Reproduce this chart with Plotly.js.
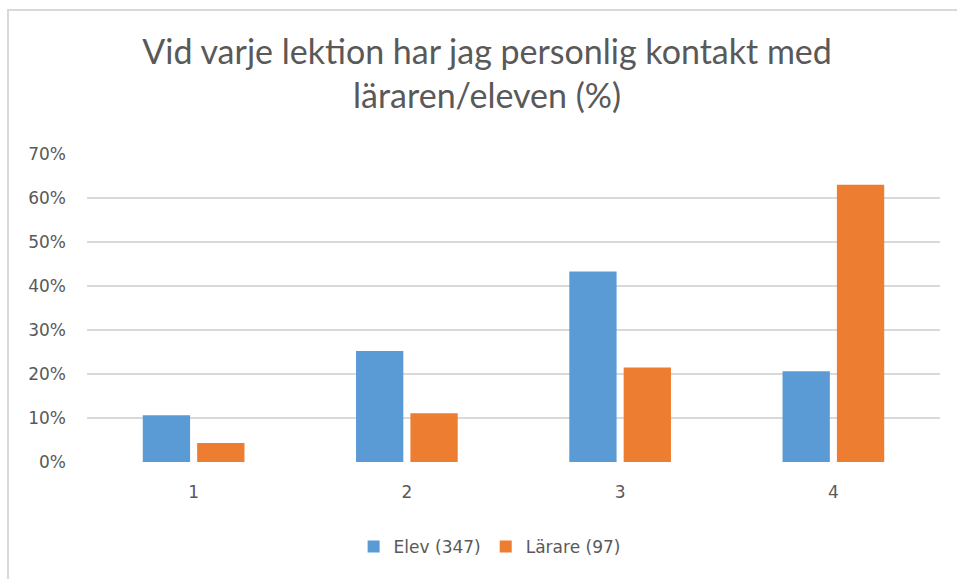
<!DOCTYPE html>
<html>
<head>
<meta charset="utf-8">
<script src="https://cdn.plot.ly/plotly-3.0.1.min.js"></script>
<style>
html,body{margin:0;padding:0;background:#fff;overflow:hidden;}
#frame{position:absolute;left:7px;top:9px;width:1000px;height:700px;border-left:2px solid #d9d9d9;border-top:2px solid #d9d9d9;}
#chart{position:absolute;left:0;top:0;width:957px;height:579px;}
</style>
</head>
<body>
<div id="frame"></div>
<div id="chart"></div>
<script>
const categories = ['1', '2', '3', '4'];
const elevValues = [0.106, 0.252, 0.433, 0.206];
const lararValues = [0.043, 0.111, 0.215, 0.630];
const seriesNames = ['Elev (347)', 'Lärare (97)'];
const yTickVals = [0, 0.1, 0.2, 0.3, 0.4, 0.5, 0.6, 0.7];
const yTickText = ['0%', '10%', '20%', '30%', '40%', '50%', '60%', '70%'];

const data = [
  {type:'bar', x:categories, y:elevValues, name:seriesNames[0], marker:{color:'#5b9bd5'}, hoverinfo:'none'},
  {type:'bar', x:categories, y:lararValues, name:seriesNames[1], marker:{color:'#ed7d31'}, hoverinfo:'none'}
];
const layout = {
  width:957, height:579,
  paper_bgcolor:'rgba(0,0,0,0)', plot_bgcolor:'rgba(0,0,0,0)',
  margin:{l:87, r:17, t:154, b:117},
  font:{family:'"DejaVu Sans", sans-serif', color:'#595959', size:17},
  title:{text:'Vid varje lektion har jag personlig kontakt med<br>läraren/eleven (%)', x:0.509, xanchor:'center', xref:'container', y:0.890, yref:'container', yanchor:'top', font:{family:'Lato, sans-serif', size:34, color:'#595959'}},
  barmode:'group', bargap:0.49, bargroupgap:0.13,
  xaxis:{type:'category', showgrid:false, showline:false, zeroline:false, ticks:'', tickfont:{size:17, color:'#595959'}, ticklabelstandoff:18},
  yaxis:{range:[0,0.7], tickvals:yTickVals, ticktext:yTickText, showgrid:true, gridcolor:'#d9d9d9', gridwidth:1.5, zeroline:false, showline:false, ticks:'', tickfont:{size:17, color:'#595959'}, ticklabelstandoff:20},
  legend:{orientation:'h', x:0.472, xanchor:'center', y:-0.276, yanchor:'middle', font:{size:17, color:'#595959'}, itemwidth:30, traceorder:'normal'},
  showlegend:true
};
Plotly.newPlot('chart', data, layout, {displayModeBar:false, staticPlot:true});
</script>
</body>
</html>
